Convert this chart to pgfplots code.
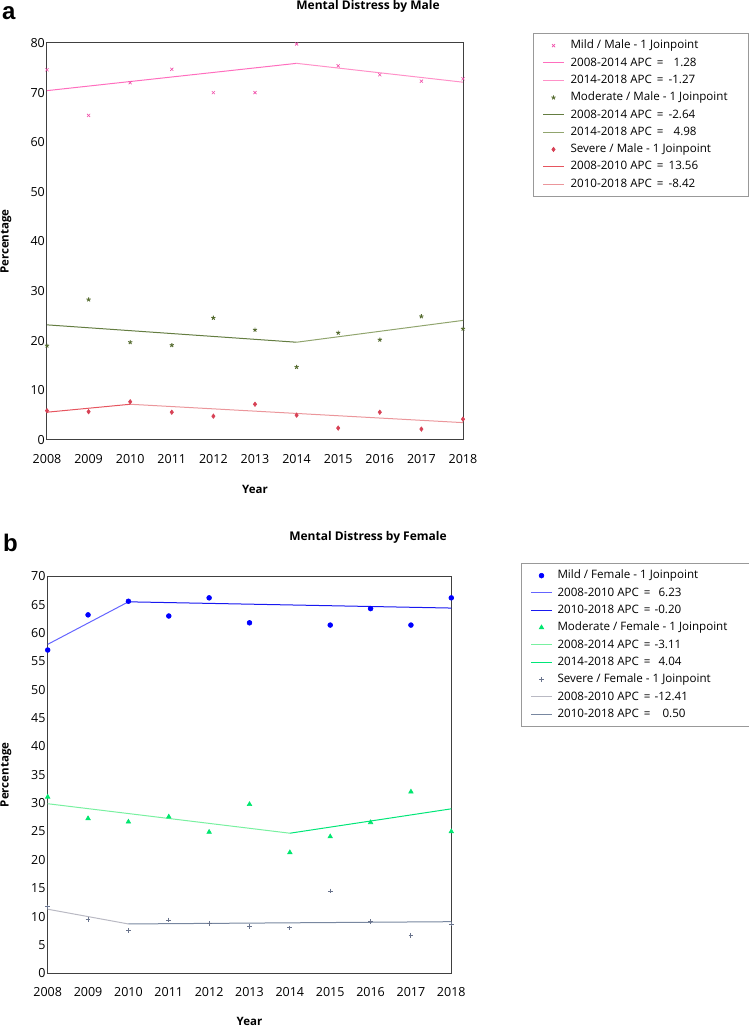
\documentclass[border=0pt]{standalone}
\usepackage{fontspec}
\setmainfont{Open Sans}
\newfontfamily\letterfont{Liberation Sans}
\usepackage{pgfplots}
\usepackage{pgfplotstable}
\pgfplotsset{compat=1.18}

% marker and segment colours
\definecolor{mildM}{RGB}{240,80,170}
\definecolor{mildMa}{RGB}{255,110,190}
\definecolor{mildMb}{RGB}{255,145,200}
\definecolor{modM}{RGB}{85,107,47}
\definecolor{modMa}{RGB}{100,125,65}
\definecolor{modMb}{RGB}{145,165,110}
\definecolor{sevM}{RGB}{215,65,85}
\definecolor{sevMa}{RGB}{230,85,95}
\definecolor{sevMb}{RGB}{235,150,155}
\definecolor{mildF}{RGB}{0,0,255}
\definecolor{mildFa}{RGB}{100,100,255}
\definecolor{mildFb}{RGB}{25,25,240}
\definecolor{modF}{RGB}{0,230,110}
\definecolor{modFa}{RGB}{120,240,160}
\definecolor{modFb}{RGB}{0,230,120}
\definecolor{sevF}{RGB}{105,115,140}
\definecolor{sevFa}{RGB}{185,185,195}
\definecolor{sevFb}{RGB}{120,135,160}

% legend text boxes of fixed width, and one segment entry: period, gap after "=", value
\newlength\legw
\newcommand\legtext[1]{\makebox[\legw][l]{#1}}
\newcommand\apc[3]{\legtext{#1 APC\hspace{5pt}=\hspace{#2}#3}}

% observed percentages
\pgfplotstableread{
year mild moderate severe
2008 74.6 19.0 5.9
2009 65.4 28.3 5.7
2010 72.0 19.7 7.7
2011 74.7 19.1 5.6
2012 70.0 24.6 4.8
2013 70.0 22.2 7.2
2014 79.8 14.7 5.0
2015 75.4 21.6 2.4
2016 73.6 20.2 5.6
2017 72.3 24.9 2.2
2018 72.8 22.4 4.2
}\male
\pgfplotstableread{
year mild moderate severe
2008 57.0 31.1 11.7
2009 63.2 27.3 9.45
2010 65.6 26.7 7.6
2011 63.0 27.6 9.4
2012 66.2 24.9 8.75
2013 61.8 29.8 8.3
2014 nan  21.3 8.0
2015 61.4 24.1 14.5
2016 64.3 26.6 9.1
2017 61.4 32.0 6.6
2018 66.2 25.0 8.7
}\female

\pgfplotsset{
  jp/.style={
    scale only axis, enlargelimits=false, clip=false,
    xmin=2008, xmax=2018, xtick={2008,...,2018}, ymin=0,
    axis line style={draw=black!75, line width=1pt},
    major tick length=0pt,
    tick label style={font=\fontsize{12.5}{14}\selectfont},
    /pgf/number format/assume math mode=true,
    /pgf/number format/1000 sep={},
    xticklabel style={anchor=north, inner sep=0pt},
    yticklabel style={anchor=east, inner sep=0pt, xshift=-2pt},
    label style={font=\bfseries\fontsize{11.5}{13}\selectfont},
    ylabel style={anchor=center},
    xlabel style={anchor=center},
    legend cell align=left,
    legend image code/.code={
      \path (0pt,0pt);
      \draw[mark repeat=2,mark phase=2,##1] plot coordinates {(6pt,0pt) (16.5pt,0pt) (27pt,0pt)};},
    legend style={draw=black!40, line width=1pt, anchor=north west,
      font=\fontsize{11.6}{14}\selectfont,
      inner xsep=3pt, inner ysep=3.5pt, row sep=0pt,
      nodes={text height=9.5pt, text depth=3pt, inner ysep=2.4pt, inner xsep=0pt, line width=0.4pt}},
    pts/.style={only marks, line width=0.6pt},
    seg/.style={no marks, line width=1pt},
  }
}

\begin{document}
\begin{tikzpicture}
\useasboundingbox (0pt,0pt) rectangle (749pt,1026pt);

% panel letters and titles
\node[anchor=base west, inner sep=0pt, font=\letterfont\bfseries\fontsize{24}{28}\selectfont] at (2pt,1006pt) {a};
\node[anchor=base, inner sep=0pt, font=\bfseries\fontsize{12}{14}\selectfont] at (368pt,1016pt) {Mental Distress by Male};
\node[anchor=base west, inner sep=0pt, font=\letterfont\bfseries\fontsize{24}{28}\selectfont] at (3pt,474pt) {b};
\node[anchor=base, inner sep=0pt, font=\bfseries\fontsize{12}{14}\selectfont] at (368pt,485pt) {Mental Distress by Female};

% male panel
\setlength\legw{175pt}
\begin{axis}[jp, at={(47pt,586pt)}, anchor=south west, width=416pt, height=397pt,
  ymax=80, ytick={0,10,...,80},
  xticklabel style={yshift=-14pt},
  xlabel={Year}, xlabel style={at={(axis description cs:0.5,-0.1234)}},
  ylabel={Percentage}, ylabel style={at={(axis description cs:-0.0986,0.5)}},
  legend style={at={(axis description cs:1.1683,1.0252)},
    /tikz/every odd column/.append style={column sep=6pt}}]
\addplot[pts, mark=x, mark size=2.2pt, color=mildM] table[x=year,y=mild] {\male};
\addlegendentry{\legtext{Mild / Male - 1 Joinpoint}}
\addplot[seg, color=mildMa] coordinates {(2008,70.4) (2014,75.9)};
\addlegendentry{\apc{2008-2014}{10pt}{1.28}}
\addplot[seg, color=mildMb] coordinates {(2014,75.9) (2018,72.1)};
\addlegendentry{\apc{2014-2018}{5pt}{-1.27}}
\addplot[pts, mark=star, mark size=2.2pt, line width=0.9pt, color=modM] table[x=year,y=moderate] {\male};
\addlegendentry{\legtext{Moderate / Male - 1 Joinpoint}}
\addplot[seg, color=modMa] coordinates {(2008,23.2) (2014,19.7)};
\addlegendentry{\apc{2008-2014}{5pt}{-2.64}}
\addplot[seg, color=modMb] coordinates {(2014,19.7) (2018,24.1)};
\addlegendentry{\apc{2014-2018}{10pt}{4.98}}
\addplot[pts, mark=diamond*, mark size=2.2pt, color=sevM] table[x=year,y=severe] {\male};
\addlegendentry{\legtext{Severe / Male - 1 Joinpoint}}
\addplot[seg, color=sevMa] coordinates {(2008,5.6) (2010,7.2)};
\addlegendentry{\apc{2008-2010}{5pt}{13.56}}
\addplot[seg, color=sevMb] coordinates {(2010,7.2) (2018,3.5)};
\addlegendentry{\apc{2010-2018}{5pt}{-8.42}}
\end{axis}

% female panel
\setlength\legw{189pt}
\begin{axis}[jp, at={(47.7pt,52.7pt)}, anchor=south west, width=403.6pt, height=397pt,
  ymax=70, ytick={0,5,...,70},
  xticklabel style={yshift=-13.5pt},
  xlabel={Year}, xlabel style={at={(axis description cs:0.5,-0.1209)}},
  ylabel={Percentage}, ylabel style={at={(axis description cs:-0.1033,0.5)}},
  legend style={at={(axis description cs:1.1727,1.0335)},
    /tikz/every odd column/.append style={column sep=5pt}}]
\addplot[pts, mark=*, mark size=2.4pt, color=mildF] table[x=year,y=mild] {\female};
\addlegendentry{\legtext{Mild / Female - 1 Joinpoint}}
\addplot[seg, color=mildFa] coordinates {(2008,58.0) (2010,65.5)};
\addlegendentry{\apc{2008-2010}{8pt}{6.23}}
\addplot[seg, color=mildFb] coordinates {(2010,65.5) (2018,64.4)};
\addlegendentry{\apc{2010-2018}{4pt}{-0.20}}
\addplot[pts, mark=triangle*, mark size=2.6pt, color=modF] table[x=year,y=moderate] {\female};
\addlegendentry{\legtext{Moderate / Female - 1 Joinpoint}}
\addplot[seg, color=modFa] coordinates {(2008,29.9) (2014,24.7)};
\addlegendentry{\apc{2008-2014}{4pt}{-3.11}}
\addplot[seg, color=modFb] coordinates {(2014,24.7) (2018,29.0)};
\addlegendentry{\apc{2014-2018}{8pt}{4.04}}
\addplot[pts, mark=+, mark size=2.4pt, line width=0.9pt, color=sevF] table[x=year,y=severe] {\female};
\addlegendentry{\legtext{Severe / Female - 1 Joinpoint}}
\addplot[seg, color=sevFa] coordinates {(2008,11.3) (2010,8.7)};
\addlegendentry{\apc{2008-2010}{4pt}{-12.41}}
\addplot[seg, color=sevFb] coordinates {(2010,8.7) (2018,9.1)};
\addlegendentry{\apc{2010-2018}{12pt}{0.50}}
\end{axis}
\end{tikzpicture}
\end{document}
